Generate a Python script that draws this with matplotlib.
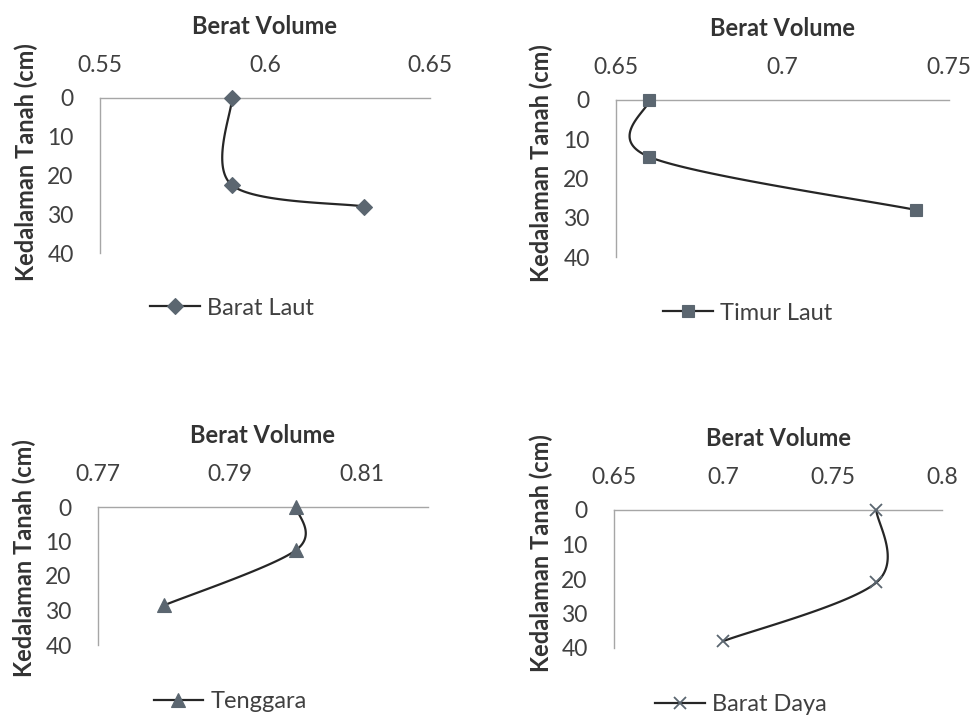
import numpy as np
import matplotlib
matplotlib.use("Agg")
import matplotlib.pyplot as plt

# Depth profiles of bulk density (berat volume) at four sampling directions
depth_bl = [0, 22.5, 28]
bv_bl = [0.59, 0.59, 0.63]

depth_tl = [0, 14.5, 28]
bv_tl = [0.66, 0.66, 0.74]

depth_tg = [0, 12.5, 28.5]
bv_tg = [0.80, 0.80, 0.78]

depth_bd = [0, 21, 38]
bv_bd = [0.77, 0.77, 0.70]

plt.rcParams['font.family'] = ['Lato', 'DejaVu Sans']

FIG_W, FIG_H = 974, 717
LINE_COLOR = "#262626"
MARKER_COLOR = "#5b6670"
SPINE_COLOR = "#a6a6a6"
TEXT_COLOR = "#404040"
TICK_FS = 16.5
TITLE_FS = 17
LEG_FS = 17


def smooth(xs, ys, sx, sy, n=40):
    # Catmull-Rom spline through the points, computed in screen-scaled units
    p = np.column_stack([np.asarray(xs) * sx, np.asarray(ys) * sy])
    p = np.vstack([p[0], p, p[-1]])
    out = []
    for i in range(1, len(p) - 2):
        p0, p1, p2, p3 = p[i - 1], p[i], p[i + 1], p[i + 2]
        c1 = p1 + (p2 - p0) / 6
        c2 = p2 - (p3 - p1) / 6
        t = np.linspace(0, 1, n)[:, None]
        seg = ((1 - t) ** 3) * p1 + 3 * ((1 - t) ** 2) * t * c1 + 3 * (1 - t) * t ** 2 * c2 + t ** 3 * p2
        out.append(seg)
    out = np.vstack(out)
    return out[:, 0] / sx, out[:, 1] / sy


def panel(box, xs, ys, xlim, xticks, xlabels, marker, ms, name, leg_xy, ylab_px):
    left, top, right, bottom = box
    ax = fig.add_axes([left / FIG_W, 1 - bottom / FIG_H,
                       (right - left) / FIG_W, (bottom - top) / FIG_H])
    ax.set_xlim(*xlim)
    ax.set_ylim(40, 0)

    # smoothed line drawn in pixel-proportional space
    sx = (right - left) / (xlim[1] - xlim[0])
    sy = (bottom - top) / 40
    cx, cy = smooth(np.array(xs) - xlim[0], ys, sx, sy)
    ax.plot(cx + xlim[0], cy, color=LINE_COLOR, lw=1.6, zorder=3, clip_on=False)
    mfc = MARKER_COLOR
    mew = 1.3 if marker == "x" else 0.8
    ax.plot(xs, ys, linestyle="none", marker=marker, ms=ms, color=mfc,
            mec=mfc, mew=mew, zorder=4, clip_on=False)

    # legend proxy: line with marker
    ax.plot([], [], color=LINE_COLOR, lw=1.6, marker=marker, ms=ms,
            mfc=mfc, mec=mfc, mew=mew, label=name)

    for s in ["right", "bottom"]:
        ax.spines[s].set_visible(False)
    for s in ["left", "top"]:
        ax.spines[s].set_color(SPINE_COLOR)
        ax.spines[s].set_linewidth(1.0)

    ax.xaxis.tick_top()
    ax.xaxis.set_label_position("top")
    ax.set_xticks(xticks)
    ax.set_xticklabels(xlabels)
    ax.set_yticks([0, 10, 20, 30, 40])
    ax.tick_params(axis="x", length=0, pad=16, labelsize=TICK_FS, labelcolor=TEXT_COLOR)
    ax.tick_params(axis="y", length=0, pad=19, labelsize=TICK_FS, labelcolor=TEXT_COLOR)

    ax.set_xlabel("Berat Volume", fontsize=TITLE_FS, fontweight="bold",
                  color="#333333", labelpad=15)
    fig.text(ylab_px[0] / FIG_W, 1 - ylab_px[1] / FIG_H, "Kedalaman Tanah (cm)",
             rotation=90, ha="center", va="center", fontsize=TITLE_FS,
             fontweight="bold", color="#333333")

    ax.legend(loc="center", bbox_to_anchor=leg_xy, frameon=False,
              fontsize=LEG_FS, handlelength=2.1, handletextpad=0.3,
              labelcolor=TEXT_COLOR)
    return ax


fig = plt.figure(figsize=(FIG_W / 100, FIG_H / 100), dpi=100)

panel((100, 98, 430, 253), bv_bl, depth_bl, (0.55, 0.65),
      [0.55, 0.60, 0.65], ["0.55", "0.6", "0.65"], "D", 8,
      "Barat Laut", (0.40, -0.355), (26, 162))

panel((616, 100, 949, 257), bv_tl, depth_tl, (0.65, 0.75),
      [0.65, 0.70, 0.75], ["0.65", "0.7", "0.75"], "s", 9,
      "Timur Laut", (0.396, -0.357), (541, 163))

panel((98, 507, 428, 645), bv_tg, depth_tg, (0.77, 0.82),
      [0.77, 0.79, 0.81], ["0.77", "0.79", "0.81"], "^", 10,
      "Tenggara", (0.40, -0.413), (24, 558))

panel((614, 510, 942, 648), bv_bd, depth_bd, (0.65, 0.80),
      [0.65, 0.70, 0.75, 0.80], ["0.65", "0.7", "0.75", "0.8"], "x", 9,
      "Barat Daya", (0.387, -0.413), (541, 553))

fig.savefig("out.png", dpi=100)
